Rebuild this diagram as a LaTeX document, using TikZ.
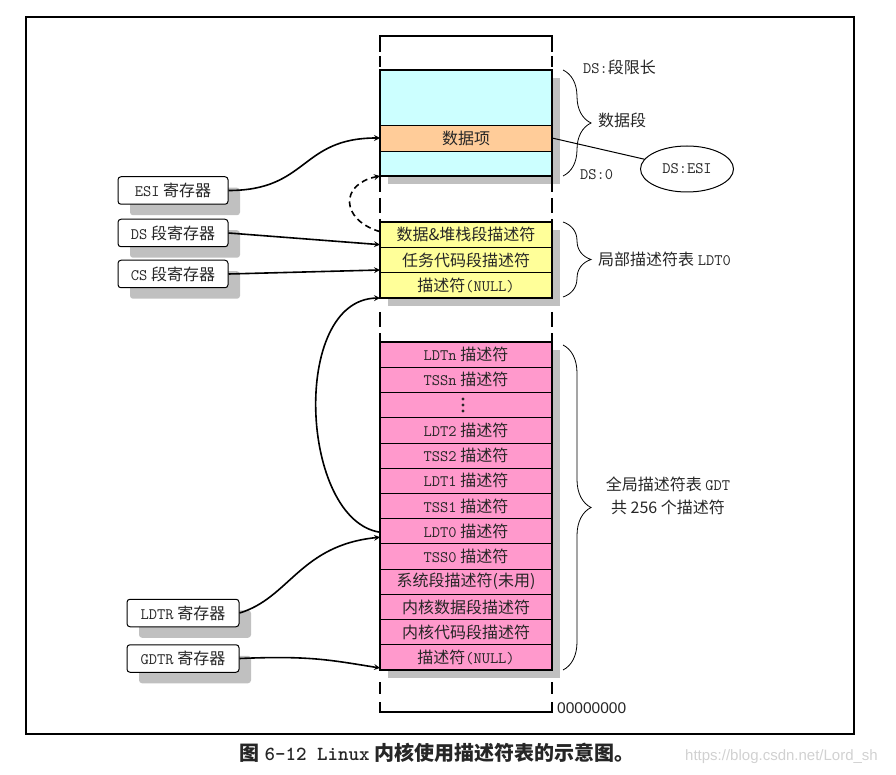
\documentclass[tikz,border=0pt]{standalone}
\usepackage{fontspec}
\setmainfont{Noto Sans CJK SC}
\setsansfont{Liberation Sans}
\usetikzlibrary{calc,shapes.geometric,shadows,decorations.pathreplacing}
\definecolor{segcyan}{HTML}{CCFFFF}
\definecolor{itemorange}{HTML}{FFCC99}
\definecolor{ldtyellow}{HTML}{FFFF99}
\definecolor{gdtpink}{HTML}{FF99CC}
\definecolor{shadowgray}{HTML}{C0C0C0}
\newcommand\asc[1]{{\ttfamily #1}}
\tikzset{
  descrow/.style={draw, line width=0.8pt, minimum width=172pt, inner sep=0pt, outer sep=0pt, text=black!85, font=\fontsize{16}{18}\selectfont},
  regbox/.style={draw, rounded corners=3pt, fill=white, line width=1pt, minimum width=110pt, minimum height=27.5pt, inner sep=0pt, text=black!85, font=\fontsize{16}{18}\selectfont, drop shadow={shadow xshift=12pt, shadow yshift=-11pt, fill=shadowgray, opacity=1}},
  lbl/.style={inner sep=0pt, text=black!85, font=\fontsize{16}{23}\selectfont},
  thickline/.style={line width=2.4pt},
  gapline/.style={line width=2.4pt, dash pattern=on 15pt off 6pt},
  segbrace/.style={decorate, decoration={brace, amplitude=28pt}, line width=0.8pt},
  link/.style={->, line width=1.6pt}
}
\begin{document}
\begin{tikzpicture}[x=1pt,y=-1pt,>=stealth]
\useasboundingbox (0,0) rectangle (896,775);
\draw[line width=2pt] (26,17) rectangle (854,734);
\fill[shadowgray] (388,78) rectangle (560,184);
\fill[shadowgray] (388,230) rectangle (560,306);
\fill[shadowgray] (388,350) rectangle (560,678);
\node[descrow, fill=segcyan, minimum height=55pt] (dtop) at (466,97.5) {};
\node[descrow, fill=itemorange, minimum height=26pt] (item) at (466,138) {数据项};
\node[descrow, fill=segcyan, minimum height=25pt] (dbot) at (466,163.5) {};
\draw[thickline] (dtop.north west) rectangle (dbot.south east);
\foreach \t [count=\i] in {数据\&堆栈段描述符, 任务代码段描述符, 描述符\asc{(NULL)}}
  \node[descrow, fill=ldtyellow, minimum height=25.33pt] (ldt\i) at (466,{222+(\i-0.5)*25.33}) {\t};
\draw[thickline] (ldt1.north west) rectangle (ldt3.south east);
\foreach \t [count=\i] in {\asc{LDTn} 描述符, \asc{TSSn} 描述符, {}, \asc{LDT2} 描述符, \asc{TSS2} 描述符, \asc{LDT1} 描述符, \asc{TSS1} 描述符, \asc{LDT0} 描述符, \asc{TSS0} 描述符, 系统段描述符(未用), 内核数据段描述符, 内核代码段描述符, 描述符\asc{(NULL)}}
  \node[descrow, fill=gdtpink, minimum height=25.23pt] (gdt\i) at (466,{342+(\i-0.5)*25.23}) {\t};
\foreach \d in {-6,0,6}
  \fill[black!85] ($(gdt3)+(-3,\d)$) circle (1.6pt);
\draw[thickline] (gdt1.north west) rectangle (gdt13.south east);
\draw[thickline] (380,52) |- (552,36) -- (552,52);
\draw[thickline] (380,56) -- (380,67) (552,56) -- (552,67);
\draw[gapline] (380,177) -- (380,222) (552,177) -- (552,222);
\draw[gapline] (380,312) -- (380,342) (552,312) -- (552,342);
\draw[thickline] (380,682) -- (380,694) (552,682) -- (552,694);
\draw[thickline] (380,702) |- (552,712) -- (552,702);
\draw[segbrace] (563,70) -- (563,176);
\draw[segbrace] (563,222) -- (563,297);
\draw[segbrace] (563,345) -- (563,670);
\node[lbl, anchor=west] (dslimit) at (583,67) {\asc{DS:}段限长};
\node[lbl, anchor=west] (dataseg) at (598,120) {数据段};
\node[lbl, anchor=west] (dszero) at (580,175) {\asc{DS:0}};
\node[lbl, draw, ellipse, line width=1pt, minimum width=93pt, minimum height=46pt] (dsesi) at (687,169) {\asc{DS:ESI}};
\draw[line width=1pt] (item.east) -- (dsesi);
\node[lbl, anchor=west] (ldtname) at (598,259) {局部描述符表 \asc{LDT0}};
\node[lbl, align=center] (gdtname) at (668,496) {全局描述符表 \asc{GDT}\\共 256 个描述符};
\node[anchor=west, inner sep=0pt, text=black!85, font=\sffamily\fontsize{15.5}{18}\selectfont] (base) at (557,708) {00000000};
\node[regbox] (esi) at (173,190.5) {\asc{ESI} 寄存器};
\node[regbox] (ds) at (173,233) {\asc{DS} 段寄存器};
\node[regbox] (cs) at (173,274) {\asc{CS} 段寄存器};
\node[regbox, minimum width=112pt] (ldtr) at (183,613) {\asc{LDTR} 寄存器};
\node[regbox, minimum width=112pt] (gdtr) at (183,658.5) {\asc{GDTR} 寄存器};
\draw[link] (esi.east) .. controls +(80,0) and +(-80,0) .. (item.west);
\draw[link, dash pattern=on 6pt off 4pt] ($(ldt1.west)+(0,-3)$) .. controls +(-40,-12) and +(-40,8) .. (dbot.south west);
\draw[link] (ds.east) -- ($(ldt1.west)+(0,10)$);
\draw[link] (cs.east) -- ($(ldt2.west)+(0,10)$);
\draw[link] ($(gdt8.west)+(0,1)$) .. controls +(-80,-12) and +(-90,2) .. (ldt3.south west);
\draw[link] (ldtr.east) .. controls +(50,-15) and +(-80,8) .. ($(gdt8.west)+(0,6)$);
\draw[link] (gdtr.east) .. controls +(70,-3) and +(-50,-8) .. ($(gdt13.south west)+(0,-2)$);
\node[text=black!85, font=\bfseries\fontsize{20}{22}\selectfont] (caption) at (437,753) {图 \asc{6-12 Linux} 内核使用描述符表的示意图。};
\node[anchor=west, inner sep=0pt, text=black!18, font=\sffamily\fontsize{15}{18}\selectfont] (mark) at (685,757) {https://blog.csdn.net/Lord\_sh};
\end{tikzpicture}
\end{document}
